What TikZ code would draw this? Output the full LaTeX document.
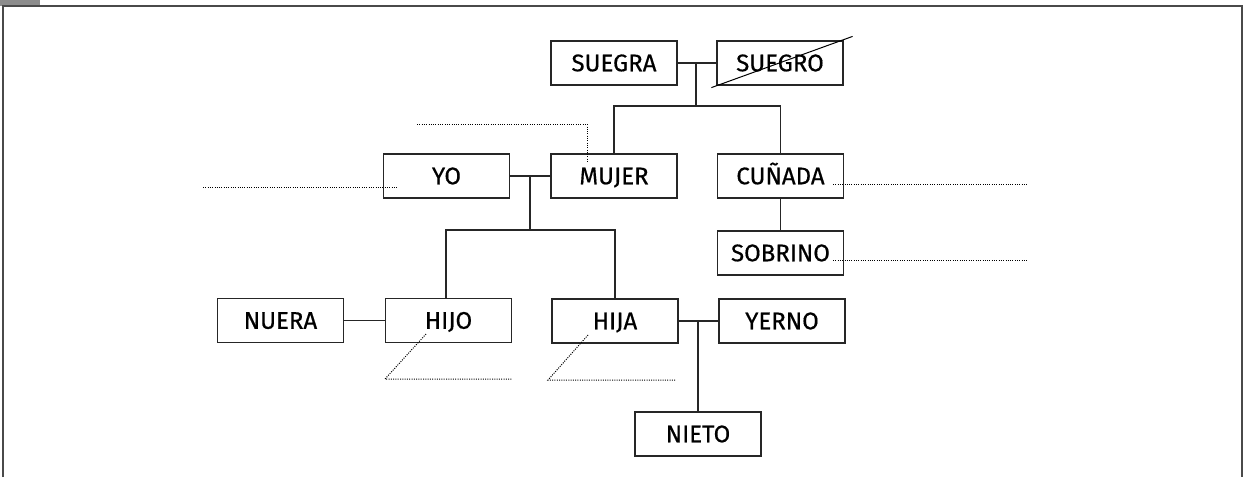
\documentclass[tikz,border=0pt]{standalone}
\usepackage{fontspec}
\setmainfont{Fira Sans}
\newfontfamily\boxfont{Fira Sans}[FakeBold=0.5]
\usetikzlibrary{calc}
\definecolor{framegray}{HTML}{4A4A4A}
\definecolor{tabgray}{HTML}{8C8C8C}
\tikzset{
  person/.style={draw=black!85, fill=white, line width=1.2pt, rectangle, minimum width=126pt, minimum height=44pt, inner sep=0pt, text height=16.5pt, text depth=0pt, font=\fontsize{24}{28}\boxfont},
  link/.style={draw=black!85, line width=1.2pt},
  blank/.style={draw=black, line width=1pt, dash pattern=on 1pt off 1.3pt},
}
\begin{document}
\begin{tikzpicture}[x=1pt,y=-1pt]
\useasboundingbox (0,0) rectangle (1247,477);
% frame
\fill[tabgray] (0,0) rectangle (40,6);
\draw[framegray, line width=2pt] (3,477) -- (3,6) -- (1242,6) -- (1242,477);
% nodes
\node[person] (suegra) at (614,63) {SUEGRA};
\node[person] (suegro) at (780,63) {SUEGRO};
\node[person] (yo) at (446.5,176) {YO};
\node[person] (mujer) at (614,176) {MUJER};
\node[person] (cunada) at (780.5,176) {CUÑADA};
\node[person] (sobrino) at (780.5,253) {SOBRINO};
\node[person] (nuera) at (280.5,320.5) {NUERA};
\node[person] (hijo) at (448.5,320.5) {HIJO};
\node[person] (hija) at (615,321) {HIJA};
\node[person] (yerno) at (782,321) {YERNO};
\node[person] (nieto) at (698,434) {NIETO};
% strike over SUEGRO
\draw[line width=1pt] ($(suegro.south west)+(-5,2)$) -- ($(suegro.north east)+(9,-4)$);
% marriage and descent lines
\coordinate (m1) at (696,63);
\coordinate (d1) at (696,106);
\draw[link] (suegra.east) -- (suegro.west);
\draw[link] (m1) -- (d1);
\draw[link] (mujer.north) |- (d1) -| (cunada.north);
\coordinate (m2) at (530,176);
\coordinate (d2) at (530,230);
\coordinate (hijotop) at (446,298.5);
\draw[link] (yo.east) -- (mujer.west);
\draw[link] (m2) -- (d2);
\draw[link] (hijotop) |- (d2) -| (hija.north);
\draw[link] (cunada.south) -- (sobrino.north);
\draw[link] (nuera.east) -- (hijo.west);
\coordinate (m3) at (698,321);
\draw[link] (hija.east) -- (yerno.west);
\draw[link] (m3) -- (nieto.north);
% dotted answer lines
\coordinate (a1) at (417,124);
\coordinate (a1b) at (587,124);
\coordinate (a1c) at (587,163);
\draw[blank] (a1) -- (a1b) -- (a1c);
\coordinate (a2) at (203,187.5);
\coordinate (a2b) at (397,187.5);
\draw[blank] (a2) -- (a2b);
\coordinate (a3) at (833,184);
\coordinate (a3b) at (1027,184);
\draw[blank] (a3) -- (a3b);
\coordinate (a4) at (833,260);
\coordinate (a4b) at (1027,260);
\draw[blank] (a4) -- (a4b);
\coordinate (a5) at (426,334);
\coordinate (a5b) at (385,379);
\coordinate (a5c) at (512,379);
\draw[blank] (a5) -- (a5b) -- (a5c);
\coordinate (a6) at (588,335);
\coordinate (a6b) at (548,380);
\coordinate (a6c) at (675,380);
\draw[blank] (a6) -- (a6b) -- (a6c);
\end{tikzpicture}
\end{document}
